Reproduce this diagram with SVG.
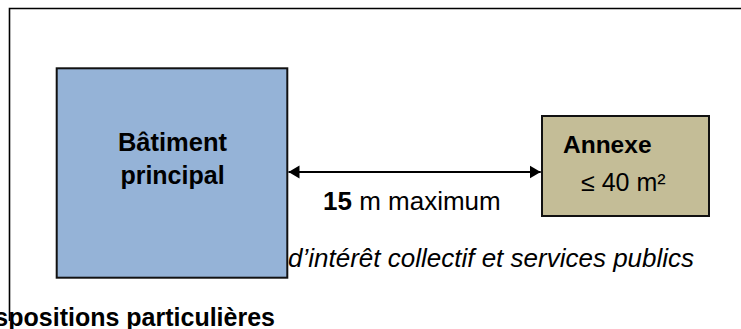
<svg xmlns="http://www.w3.org/2000/svg" width="741" height="329" viewBox="0 0 741 329">
  <style>
    .box { stroke: #111; stroke-width: 2; }
    .t { font-family: "Liberation Sans", Arial, sans-serif; fill: #000; }
    .b { font-weight: bold; }
    .i { font-style: italic; }
  </style>
  <defs>
    <marker id="ah" markerUnits="userSpaceOnUse" markerWidth="12" markerHeight="14" refX="11" refY="7" orient="auto-start-reverse">
      <path d="M0,0.5 L11,7 L0,13.5 Z" fill="#000"/>
    </marker>
  </defs>
  <rect width="741" height="329" fill="#fff"/>
  <g id="frame">
    <path d="M9.5,321 V8.5 H745" fill="none" stroke="#000" stroke-width="1.6"/>
  </g>
  <g id="note-text">
    <text class="t i" x="288" y="267" font-size="26">d’intérêt collectif et services publics</text>
    <text class="t b" x="275" y="326" font-size="25" text-anchor="end">dispositions particulières</text>
  </g>
  <g id="batiment-principal">
    <rect class="box" x="56.7" y="68.3" width="230.6" height="209.4" fill="#95B3D7"/>
    <text class="t b" x="172.5" y="151" font-size="25.5" text-anchor="middle">Bâtiment</text>
    <text class="t b" x="172.5" y="183.5" font-size="25" text-anchor="middle">principal</text>
  </g>
  <g id="annexe">
    <rect class="box" x="542" y="116" width="167" height="100" fill="#C4BD97"/>
    <text class="t b" x="563" y="153" font-size="24.5">Annexe</text>
    <text class="t" x="581" y="191" font-size="25">≤ 40 m²</text>
  </g>
  <g id="connectors">
    <line x1="288.5" y1="172" x2="540.7" y2="172" stroke="#000" stroke-width="2" marker-start="url(#ah)" marker-end="url(#ah)"/>
    <text class="t" x="323" y="210" font-size="26"><tspan class="b">15</tspan> m maximum</text>
  </g>
</svg>
